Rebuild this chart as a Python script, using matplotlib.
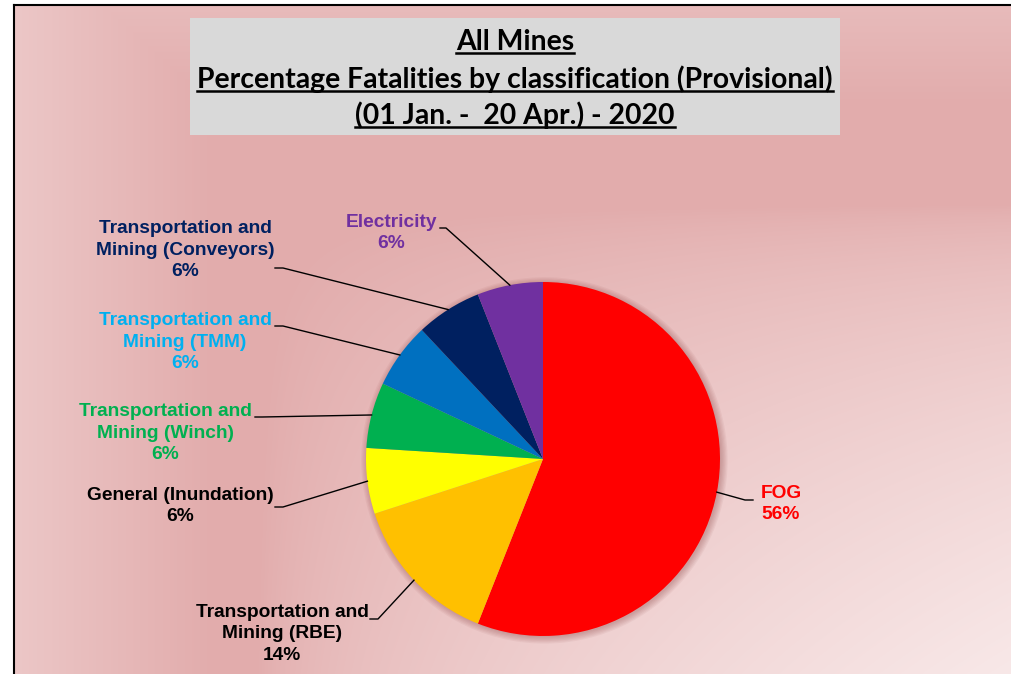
import numpy as np
import matplotlib.pyplot as plt
from matplotlib.patches import Rectangle, Circle

# data
categories = ['FOG', 'Transportation and\nMining (RBE)', 'General (Inundation)',
              'Transportation and\nMining (Winch)', 'Transportation and\nMining (TMM)',
              'Transportation and\nMining (Conveyors)', 'Electricity']
percent = [56, 14, 6, 6, 6, 6, 6]
slice_colors = ['#FF0000', '#FFC000', '#FFFF00', '#00B050', '#0070C0', '#002060', '#7030A0']
label_colors = ['#FF0000', '#000000', '#000000', '#00B050', '#00B0F0', '#002060', '#7030A0']
title_lines = ['All Mines',
               'Percentage Fatalities by classification (Provisional)',
               '(01 Jan. -  20 Apr.) - 2020']

# label layout in pixels: text centre, elbow of leader, end of short tail
label_pos = [(781, 504), (282, 634), (180, 506), (165, 433), (185, 342), (185, 250), (391, 233)]
elbow_pos = [(745, 500), (378, 619), (283, 507), (262, 417), (283, 326), (283, 268), (446, 228)]
tail_pos = [(753, 500), (370, 619), (275, 507), (255, 417), (275, 326), (275, 268), (440, 228)]

W, H = 1011, 674
fig = plt.figure(figsize=(W / 100, H / 100), dpi=100)
bg = fig.add_axes([0, 0, 1, 1])
bg.axis('off')

# pink gradient background inside the frame
x0, y0 = 14, 5
yy, xx = np.mgrid[y0:H, x0:W].astype(float)
t_left = np.clip(1 - (xx - x0) / 200, 0, 1) * 0.45
t_top = np.clip(1 - (yy - y0) / 100, 0, 1) * 0.25
t_br = np.sqrt(np.clip((yy - 200) / 474, 0, 1) * np.clip((xx - 250) / 760, 0, 1))
t_br = np.clip(t_br * 1.1 - 0.1, 0, 1)
t = np.maximum(np.maximum(t_left, t_top), t_br)
dark = np.array([226, 172, 172]) / 255
light = np.array([248, 232, 232]) / 255
img = dark + (light - dark) * t[..., None]
bg.imshow(img, extent=(x0, W, H, y0), aspect='auto', zorder=0, interpolation='bilinear')
bg.plot([x0, x0], [H, y0], color='black', lw=1.5, zorder=1)
bg.plot([x0, W], [y0, y0], color='black', lw=1.5, zorder=1)
bg.add_patch(Rectangle((190, 18), 650, 117, facecolor='#D9D9D9', edgecolor='none', zorder=1))
bg.set_xlim(0, W)
bg.set_ylim(H, 0)

# title with underlines
title_y = [42, 79, 115]
title_txt = []
for s, y in zip(title_lines, title_y):
    title_txt.append(bg.text(515, y, s, ha='center', va='center', fontsize=20,
                             fontweight='bold', family=['Lato', 'DejaVu Sans'], zorder=2))
fig.canvas.draw()
r = fig.canvas.get_renderer()
w = title_txt[1].get_window_extent(r).width
for tx in title_txt:
    tx.set_fontsize(20 * 636 / w)
fig.canvas.draw()
inv = bg.transData.inverted()
for tx in title_txt:
    bb = tx.get_window_extent(r)
    (ax0, ay0), (ax1, ay1) = inv.transform([(bb.x0, bb.y0), (bb.x1, bb.y1)])
    bg.plot([ax0, ax1], [ay0 - 2, ay0 - 2], color='black', lw=1.8, zorder=2)

# pie
cx, cy, rad = 543, 459, 177
ax = fig.add_axes([(cx - rad) / W, (H - cy - rad) / H, 2 * rad / W, 2 * rad / H])
for k in range(6):
    ax.add_patch(Circle((0.008, -0.008), 1.0 + 0.007 * k, facecolor='#803030',
                        alpha=0.06, edgecolor='none', zorder=0, clip_on=False))
wedges, _ = ax.pie(percent, colors=slice_colors, startangle=90, counterclock=False,
                   wedgeprops=dict(linewidth=0, zorder=2))
ax.set_xlim(-1, 1)
ax.set_ylim(-1, 1)


def to_pie(p):
    return (p[0] - cx) / rad, (cy - p[1]) / rad


for wdg, cat, p, col, lp, ep, tp in zip(wedges, categories, percent, label_colors,
                                         label_pos, elbow_pos, tail_pos):
    wdg.set_clip_on(False)
    mid = np.deg2rad((wdg.theta1 + wdg.theta2) / 2)
    ex, ey = to_pie(ep)
    tx_, ty_ = to_pie(tp)
    ax.plot([np.cos(mid), ex, tx_], [np.sin(mid), ey, ty_], color='black', lw=1,
            clip_on=False, zorder=3)
    lx, ly = to_pie(lp)
    ax.text(lx, ly, f'{cat}\n{p}%', ha='center', va='center', color=col, fontsize=13.8,
            fontweight='bold', family=['Liberation Sans', 'DejaVu Sans'], linespacing=1.35,
            clip_on=False, zorder=4)

fig.savefig('out.png', dpi=100)
